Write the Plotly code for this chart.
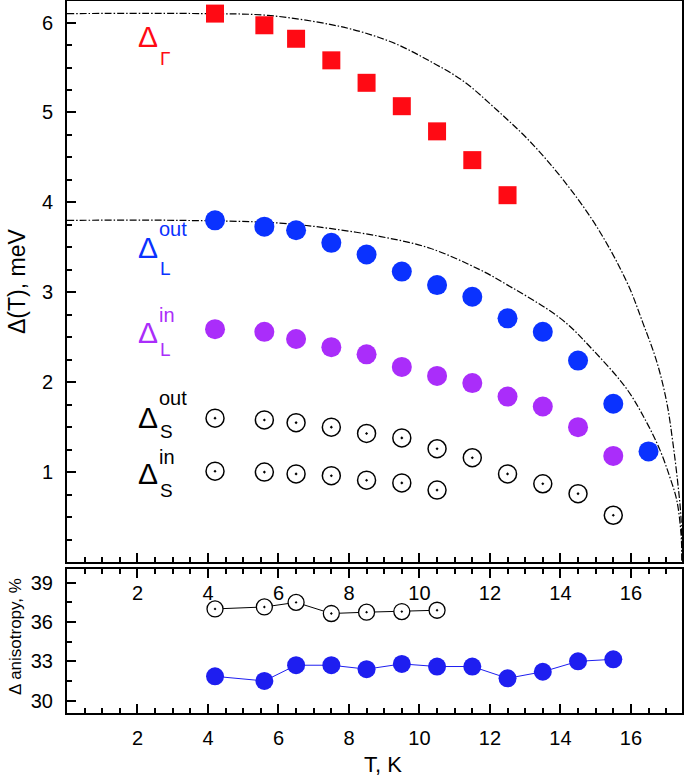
import plotly.graph_objects as go

# ---------------- data ----------------
T_gamma = [4.2, 5.6, 6.5, 7.5, 8.5, 9.5, 10.5, 11.5, 12.5]
gap_gamma = [6.10, 5.97, 5.82, 5.58, 5.33, 5.07, 4.79, 4.47, 4.08]

T_L_out = [4.2, 5.6, 6.5, 7.5, 8.5, 9.5, 10.5, 11.5, 12.5, 13.5, 14.5, 15.5, 16.5]
gap_L_out = [3.80, 3.73, 3.69, 3.55, 3.42, 3.23, 3.08, 2.95, 2.71, 2.56, 2.24, 1.76, 1.23]

T_L_in = [4.2, 5.6, 6.5, 7.5, 8.5, 9.5, 10.5, 11.5, 12.5, 13.5, 14.5, 15.5]
gap_L_in = [2.59, 2.56, 2.48, 2.39, 2.31, 2.17, 2.07, 1.99, 1.84, 1.73, 1.50, 1.18]

T_S_out = [4.2, 5.6, 6.5, 7.5, 8.5, 9.5, 10.5, 11.5, 12.5, 13.5, 14.5, 15.5]
gap_S_out = [1.60, 1.58, 1.55, 1.50, 1.43, 1.38, 1.26, 1.16, 0.98, 0.87, 0.76, 0.52]

T_S_in = [4.2, 5.6, 6.5, 7.5, 8.5, 9.5, 10.5]
gap_S_in = [1.01, 1.00, 0.98, 0.96, 0.91, 0.88, 0.80]

# BCS-like guide curves
T_curve_gamma = [0, 3.8, 5.7, 7.46, 8.41, 9.35, 10.30, 11.24, 12.19, 13.13, 14.08,
                 15.03, 15.89, 16.34, 16.74, 17.02, 17.19, 17.33, 17.42, 17.45]
curve_gamma = [6.10, 6.10, 6.08, 5.98, 5.89, 5.76, 5.57, 5.35, 5.03, 4.68, 4.25,
               3.73, 3.11, 2.66, 2.22, 1.77, 1.33, 0.88, 0.50, 0.0]
T_curve_L = [0, 3.2, 6.04, 7.46, 8.9, 10.3, 11.72, 12.28, 14.0, 14.92, 15.89, 16.45,
             16.82, 17.1, 17.3, 17.42, 17.45]
curve_L = [3.80, 3.80, 3.77, 3.71, 3.62, 3.49, 3.25, 3.13, 2.71, 2.36, 1.92, 1.55,
           1.25, 0.95, 0.69, 0.32, 0.0]

T_aniso_S = [4.2, 5.6, 6.5, 7.5, 8.5, 9.5, 10.5]
aniso_S = [37.0, 37.15, 37.5, 36.65, 36.75, 36.8, 36.9]
T_aniso_L = [4.2, 5.6, 6.5, 7.5, 8.5, 9.5, 10.5, 11.5, 12.5, 13.5, 14.5, 15.5]
aniso_L = [31.85, 31.5, 32.7, 32.7, 32.4, 32.8, 32.6, 32.6, 31.7, 32.2, 33.0, 33.15]

x_ticks = [2, 4, 6, 8, 10, 12, 14, 16]
y_ticks_top = [1, 2, 3, 4, 5, 6]
y_ticks_bot = [30, 33, 36, 39]

RED = "#FF0A14"
BLUE = "#0A32FF"
PURPLE = "#AA2DFA"
BLUE2 = "#1E1EF0"
FONT = "Liberation Sans, Arial, sans-serif"

fig = go.Figure()

dashdot = "7px,2px,1.5px,2px"
for tx, ty in ((T_curve_gamma, curve_gamma), (T_curve_L, curve_L)):
    fig.add_trace(go.Scatter(x=tx, y=ty, mode="lines",
                             line=dict(color="black", width=1.2, dash=dashdot,
                                       shape="spline", smoothing=1.0),
                             xaxis="x", yaxis="y", showlegend=False, hoverinfo="skip"))

fig.add_trace(go.Scatter(x=T_gamma, y=gap_gamma, mode="markers",
                         marker=dict(symbol="square", size=18, color=RED, line=dict(width=0)),
                         xaxis="x", yaxis="y", showlegend=False))
fig.add_trace(go.Scatter(x=T_L_out, y=gap_L_out, mode="markers",
                         marker=dict(symbol="circle", size=20, color=BLUE, line=dict(width=0)),
                         xaxis="x", yaxis="y", showlegend=False))
fig.add_trace(go.Scatter(x=T_L_in, y=gap_L_in, mode="markers",
                         marker=dict(symbol="circle", size=20, color=PURPLE, line=dict(width=0)),
                         xaxis="x", yaxis="y", showlegend=False))
fig.add_trace(go.Scatter(x=T_S_out, y=gap_S_out, mode="markers",
                         marker=dict(symbol="circle-dot", size=18, color="white",
                                     line=dict(color="black", width=1.5)),
                         xaxis="x", yaxis="y", showlegend=False))
fig.add_trace(go.Scatter(x=T_S_in, y=gap_S_in, mode="markers",
                         marker=dict(symbol="circle-dot", size=18, color="white",
                                     line=dict(color="black", width=1.5)),
                         xaxis="x", yaxis="y", showlegend=False))

# bottom panel
fig.add_trace(go.Scatter(x=T_aniso_S, y=aniso_S, mode="lines+markers",
                         line=dict(color="black", width=1),
                         marker=dict(symbol="circle-dot", size=16, color="white",
                                     line=dict(color="black", width=1.3)),
                         xaxis="x2", yaxis="y2", showlegend=False))
fig.add_trace(go.Scatter(x=T_aniso_L, y=aniso_L, mode="lines+markers",
                         line=dict(color=BLUE2, width=1),
                         marker=dict(symbol="circle", size=18, color=BLUE2, line=dict(width=0)),
                         xaxis="x2", yaxis="y2", showlegend=False))

H_TOP_BOTTOM = (713 - 562) / 712
H_BOT_TOP = (713 - 569) / 712

axis_common = dict(showgrid=False, zeroline=False, showline=True, linecolor="black",
                   linewidth=2, ticks="inside", tickcolor="black", tickwidth=1.5,
                   ticklen=9, automargin=False,
                   tickfont=dict(family=FONT, size=20, color="black"))

fig.update_layout(
    width=685, height=779,
    margin=dict(l=67, r=3, t=1, b=66),
    paper_bgcolor="white", plot_bgcolor="white",
    font=dict(family=FONT, color="black"),
    xaxis=dict(domain=[0, 1], range=[0, 17.45], anchor="y",
               tickmode="array", tickvals=x_ticks, showticklabels=True,
               ticklabelstandoff=12, mirror=True,
               minor=dict(tickmode="linear", tick0=0, dtick=0.5, ticks="inside",
                          ticklen=5, tickwidth=1.5, tickcolor="black"),
               **axis_common),
    yaxis=dict(domain=[H_TOP_BOTTOM, 1], range=[0, 6.24], anchor="x",
               tickmode="array", tickvals=y_ticks_top, mirror=True,
               ticklabelstandoff=8,
               minor=dict(tickmode="linear", tick0=0, dtick=0.25, ticks="inside",
                          ticklen=5, tickwidth=1.5, tickcolor="black"),
               **axis_common),
    xaxis2=dict(domain=[0, 1], range=[0, 17.45], anchor="y2",
                tickmode="array", tickvals=x_ticks, mirror="ticks",
                ticklabelstandoff=6,
                minor=dict(tickmode="linear", tick0=0, dtick=0.5, ticks="inside",
                           ticklen=5, tickwidth=1.5, tickcolor="black"),
                **axis_common),
    yaxis2=dict(domain=[0, H_BOT_TOP], range=[29.05, 40.05], anchor="x2",
                tickmode="array", tickvals=y_ticks_bot, mirror=True,
                ticklabelstandoff=8,
                minor=dict(tickmode="linear", tick0=0, dtick=1.5, ticks="inside",
                           ticklen=5, tickwidth=1.5, tickcolor="black"),
                **axis_common),
)

def px2paper(px, py):
    return (px - 67) / 615, (713 - py) / 712

annos = []
x, y = px2paper(17, 282)
annos.append(dict(text="Δ(T), meV", x=x, y=y, xref="paper", yref="paper", showarrow=False,
                  textangle=-90, font=dict(size=23, family=FONT, color="black"),
                  xanchor="center", yanchor="middle"))
x, y = px2paper(15, 637)
annos.append(dict(text="Δ anisotropy, %", x=x, y=y, xref="paper", yref="paper", showarrow=False,
                  textangle=-90, font=dict(size=17, family=FONT, color="black"),
                  xanchor="center", yanchor="middle"))
x, y = px2paper(383, 764)
annos.append(dict(text="T, K", x=x, y=y, xref="paper", yref="paper", showarrow=False,
                  font=dict(size=22, family=FONT, color="black"),
                  xanchor="center", yanchor="middle"))

def gap_label(delta_y, sup, sup_y, sub, sub_y, color):
    annos.append(dict(text="Δ", x=1.96, y=delta_y, xref="x", yref="y", showarrow=False,
                      xanchor="left", yanchor="middle",
                      font=dict(size=30, family=FONT, color=color)))
    if sup:
        annos.append(dict(text=sup, x=2.55, y=sup_y, xref="x", yref="y", showarrow=False,
                          xanchor="left", yanchor="middle",
                          font=dict(size=20, family=FONT, color=color)))
    annos.append(dict(text=sub, x=2.57, y=sub_y, xref="x", yref="y", showarrow=False,
                      xanchor="left", yanchor="middle",
                      font=dict(size=19, family=FONT, color=color)))

gap_label(5.84, None, None, "Γ", 5.60, RED)
gap_label(3.50, "out", 3.70, "L", 3.27, BLUE)
gap_label(2.55, "in", 2.75, "L", 2.36, PURPLE)
gap_label(1.61, "out", 1.82, "S", 1.45, "black")
gap_label(0.98, "in", 1.17, "S", 0.80, "black")

fig.update_layout(annotations=annos)

fig.write_html("out.html", config={"displayModeBar": False},
               post_script="document.body.style.margin='0';document.body.style.padding='0';")
